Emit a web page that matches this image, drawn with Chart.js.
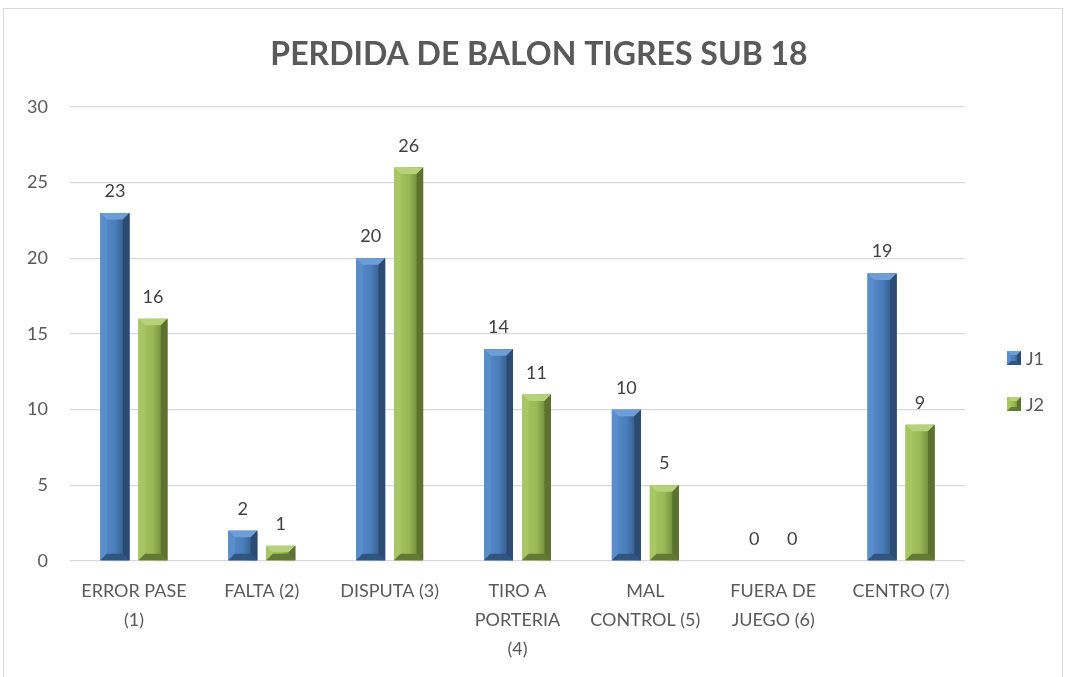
<!DOCTYPE html>
<html>
<head>
<meta charset="utf-8">
<script src="https://cdn.jsdelivr.net/npm/chart.js@4.4.1/dist/chart.umd.min.js"></script>
<style>
  body { margin: 0; background: #fff; }
  #frame { position: absolute; left: 3px; top: 8px; width: 1058px; height: 688px; border: 1px solid #d9d9d9; }
  #wrap { position: absolute; left: 0; top: 0; width: 1058px; height: 688px; }
</style>
</head>
<body>
<div id="frame"><div id="wrap"><canvas id="myChart"></canvas></div></div>
<script>
// chart data
var chartTitle = 'PERDIDA DE BALON TIGRES SUB 18';
var categories = [
  ['ERROR PASE', '(1)'],
  'FALTA (2)',
  'DISPUTA (3)',
  ['TIRO A', 'PORTERIA', '(4)'],
  ['MAL', 'CONTROL (5)'],
  ['FUERA DE', 'JUEGO (6)'],
  'CENTRO (7)'
];
var seriesNames = ['J1', 'J2'];
var j1Values = [23, 2, 20, 14, 10, 0, 19];
var j2Values = [16, 1, 26, 11, 5, 0, 9];
var yTicks = [0, 5, 10, 15, 20, 25, 30];

var TEXT = '#595959';
var FONT = 'Lato, "Liberation Sans", sans-serif';

// bevel colours per series: face, top, left, right, bottom
var bevel = [
  { face: '#4a7ebb', top: '#6e9ed8', left: '#5a8dcb', right: '#2b4b72', bottom: '#30557f' },
  { face: '#98b954', top: '#b6d37c', left: '#a6c764', right: '#5c7330', bottom: '#627a34' }
];

function poly(ctx, pts, color) {
  ctx.beginPath();
  ctx.moveTo(pts[0][0], pts[0][1]);
  for (var i = 1; i < pts.length; i++) ctx.lineTo(pts[i][0], pts[i][1]);
  ctx.closePath();
  ctx.fillStyle = color;
  ctx.fill();
}

function drawBevel(ctx, l, t, r, b, c, size) {
  var s = Math.min(size, (r - l) / 2, (b - t) / 2);
  var g = ctx.createLinearGradient(l, 0, r, 0);
  g.addColorStop(0, c.left);
  g.addColorStop(0.5, c.face);
  g.addColorStop(1, c.right);
  ctx.fillStyle = g;
  ctx.fillRect(l, t, r - l, b - t);
  poly(ctx, [[l, t], [r, t], [r - s, t + s], [l + s, t + s]], c.top);
  poly(ctx, [[l, t], [l + s, t + s], [l + s, b - s], [l, b]], c.left);
  poly(ctx, [[r, t], [r - s, t + s], [r - s, b - s], [r, b]], c.right);
  poly(ctx, [[l, b], [l + s, b - s], [r - s, b - s], [r, b]], c.bottom);
}

// bevelled bars + value labels + legend + title
var bevelPlugin = {
  id: 'bevelBars',
  afterDatasetsDraw(chart) {
    var ctx = chart.ctx;
    ctx.save();
    chart.data.datasets.forEach(function (ds, di) {
      var meta = chart.getDatasetMeta(di);
      meta.data.forEach(function (bar, i) {
        var w = bar.width;
        var l = bar.x - w / 2, r = bar.x + w / 2;
        var top = Math.min(bar.y, bar.base), bot = Math.max(bar.y, bar.base);
        if (bot - top >= 1) drawBevel(ctx, l, top, r, bot, bevel[di], 6.5);
        ctx.fillStyle = '#404040';
        ctx.font = '18px ' + FONT;
        ctx.textAlign = 'center';
        ctx.textBaseline = 'alphabetic';
        ctx.fillText(String(ds.data[i]), bar.x, bar.y - 16);
      });
    });
    // legend
    var lx = 1003, ly = [349, 395];
    chart.data.datasets.forEach(function (ds, di) {
      drawBevel(ctx, lx, ly[di] - 7, lx + 14, ly[di] + 7, bevel[di], 4);
      ctx.fillStyle = TEXT;
      ctx.font = '18px ' + FONT;
      ctx.textAlign = 'left';
      ctx.textBaseline = 'middle';
      ctx.fillText(ds.label, lx + 19, ly[di] + 1);
    });
    // title, centred on the whole chart frame
    ctx.fillStyle = TEXT;
    ctx.font = 'bold 32px ' + FONT;
    ctx.textAlign = 'center';
    ctx.textBaseline = 'middle';
    ctx.fillText(chartTitle, 535, 46);
    ctx.restore();
  }
};

var data = {
  labels: categories,
  datasets: [
    { label: seriesNames[0], data: j1Values, backgroundColor: bevel[0].face },
    { label: seriesNames[1], data: j2Values, backgroundColor: bevel[1].face }
  ]
};

var config = {
  type: 'bar',
  data: data,
  plugins: [bevelPlugin],
  options: {
    responsive: true,
    maintainAspectRatio: false,
    animation: false,
    categoryPercentage: 0.594,
    barPercentage: 0.763,
    layout: { padding: { left: 0, right: 97, top: 98, bottom: 0 } },
    scales: {
      x: {
        grid: { display: false, drawTicks: false },
        border: { display: false },
        ticks: { color: TEXT, font: { family: FONT, size: 18, lineHeight: 1.6 }, padding: 16, maxRotation: 0, autoSkip: false },
        afterFit(scale) { scale.height = 136; }
      },
      y: {
        min: 0,
        max: 30,
        afterBuildTicks(scale) { scale.ticks = yTicks.map(function (v) { return { value: v }; }); },
        grid: { color: '#d9d9d9', lineWidth: 1.3, drawTicks: false },
        border: { display: false },
        ticks: { color: TEXT, font: { family: FONT, size: 18 }, padding: 22 },
        afterFit(scale) { scale.width = 66; }
      }
    },
    plugins: {
      legend: { display: false },
      tooltip: { enabled: false },
      title: { display: false }
    }
  }
};

var myChart = new Chart(document.getElementById('myChart'), config);
</script>
</body>
</html>
